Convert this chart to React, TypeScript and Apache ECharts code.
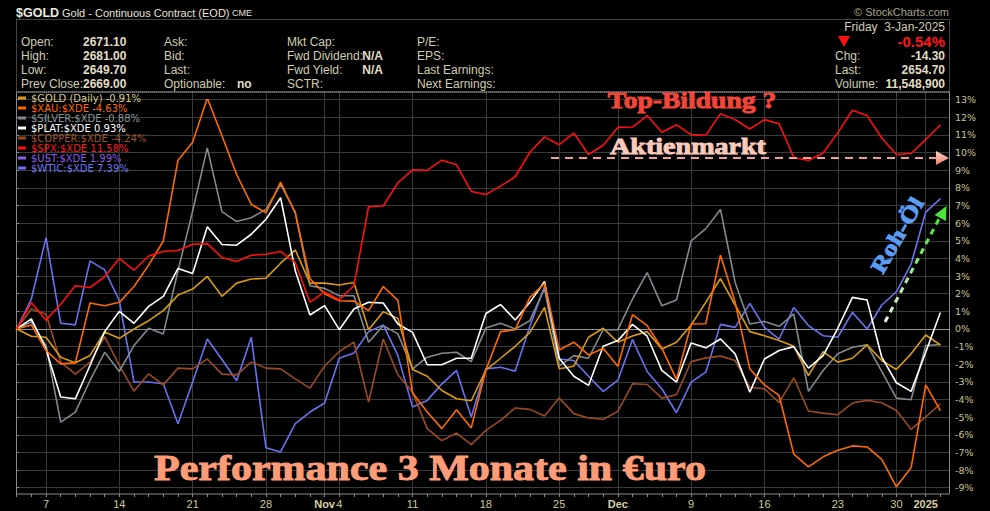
import React, { useEffect, useRef } from 'react';
import * as echarts from 'echarts';

// ---------- DATA ----------
const dates = [
  '2024-10-03','2024-10-04','2024-10-07','2024-10-08','2024-10-09','2024-10-10','2024-10-11','2024-10-14','2024-10-15','2024-10-16','2024-10-17','2024-10-18','2024-10-21','2024-10-22','2024-10-23','2024-10-24','2024-10-25','2024-10-28','2024-10-29','2024-10-30','2024-10-31',
  '2024-11-01','2024-11-04','2024-11-05','2024-11-06','2024-11-07','2024-11-08','2024-11-11','2024-11-12','2024-11-13','2024-11-14','2024-11-15','2024-11-18','2024-11-19','2024-11-20','2024-11-21','2024-11-22','2024-11-25','2024-11-26','2024-11-27','2024-11-29',
  '2024-12-02','2024-12-03','2024-12-04','2024-12-05','2024-12-06','2024-12-09','2024-12-10','2024-12-11','2024-12-12','2024-12-13','2024-12-16','2024-12-17','2024-12-18','2024-12-19','2024-12-20','2024-12-23','2024-12-24','2024-12-26','2024-12-27','2024-12-30','2024-12-31',
  '2025-01-02','2025-01-03'
];

const tickDates = ['2024-10-07','2024-10-14','2024-10-21','2024-10-28','2024-11-01','2024-11-04','2024-11-11','2024-11-18','2024-11-25','2024-12-02','2024-12-09','2024-12-16','2024-12-23','2024-12-30','2025-01-02'];
const tickLabels = ['7','14','21','28','Nov','4','11','18','25','Dec','9','16','23','30','2025'];
const boldTickLabels = ['Nov','Dec','2025'];

const gold = [0,-0.41,-0.47,-1.6,-1.92,-1.5,-0.17,-0.53,0,0.47,1.04,
  1.92,2.26,2.98,1.85,2.6,2.83,2.88,3.73,4.48,2.6,2.6,
  2.49,2.64,-0.04,0.98,0.6,-2.3,-2.68,-3.49,-3.96,-4.07,-2.33,
  -1.66,-0.98,-0.19,1.22,-2.26,-2.11,-0.47,0.04,-0.75,-0.4,
  -0.15,-1.13,-0.75,0.23,1.51,2.86,1.36,-0.15,-0.38,-0.66,-0.98,
  -2.64,-1.28,-1.88,-1.66,-0.9,-1.79,-2.3,-1.41,-0.34,-0.91];

const xau = [0,0.23,-1.22,-1.98,-1.92,1.47,1.32,1.51,2.41,3.62,4.99,
  9.57,10.59,13.09,10.96,8.76,7.06,6.59,8.33,6.56,2.86,2.0,
  1.6,1.58,1.04,2.41,1.62,-3.62,-4.71,-5.65,-4.58,-5.61,-2.33,
  -0.15,-0.04,1.79,2.58,-1.19,-0.75,-1.47,-1.09,-2.11,0.81,
  0.19,-1.09,-2.86,0.28,0.3,4.18,1.51,-2.26,-3.17,-3.77,-7.1,
  -7.82,-7.25,-6.88,-6.63,-6.69,-7.4,-8.95,-7.87,-3.17,-4.63];

const silver = [0,0.41,-0.94,-5.28,-4.71,-2.92,-1.32,-2.41,-0.94,0.04,-0.28,
  3.3,6.69,10.27,6.65,6.09,6.31,6.78,8.2,6.63,2.45,2.3,
  1.88,1.88,-0.75,0.19,-0.28,-2.26,-1.6,-1.38,-1.32,-1.85,0.05,
  0.32,0,0.47,2.3,-2.11,-1.51,-1.66,-0.04,-0.04,1.7,
  3.2,1.32,1.64,4.99,5.69,6.78,2.64,0.28,0.43,0.15,0.85,
  -3.54,-2.35,-1.41,-1.04,-0.9,-2.41,-3.92,-4.01,-0.94,-0.88];

const plat = [0,0.57,-1.13,-3.86,-3.96,-2.07,-0.15,1.0,0.32,1.28,1.85,
  3.43,3.15,5.8,4.79,4.75,5.37,6.22,7.44,3.3,0.79,1.32,
  -0.04,1.13,1.51,1.47,0.28,-0.19,-2.03,-2.03,-1.66,-1.66,0.88,
  1.39,0.51,1.51,2.69,-1.66,-2.68,-3.2,-0.98,-0.66,0.26,
  -0.41,-2.35,-3.01,-0.79,-1.07,-0.57,-1.41,-3.58,-1.7,-1.22,-1.0,
  -2.22,-1.51,0.04,1.79,1.64,-1.6,-3.05,-3.54,-1.32,0.93];

const copper = [0,1.13,0.85,-1.88,-2.56,-1.88,-0.43,-2.07,-3.52,-2.54,-3.17,
  -2.22,-2.26,-1.7,-2.56,-2.6,-1.88,-2.22,-2.26,-2.83,-3.35,-2.1,
  -1.28,-0.75,-4.14,-0.57,-2.6,-3.58,-5.65,-6.33,-5.9,-6.56,-5.75,
  -5.18,-4.48,-4.56,-4.94,-3.92,-4.8,-5.05,-5.12,-4.67,-3.11,
  -3.15,-3.92,-3.73,-1.85,-1.64,-1.54,-1.79,-3.3,-3.39,-4.18,-2.77,
  -4.65,-4.77,-4.86,-4.2,-4.05,-4.18,-4.62,-5.69,-4.99,-4.24];

const spx = [0,1.5,0.5,1.4,2.45,2.35,2.96,4.0,3.33,4.14,4.39,
  4.45,4.8,4.84,4.05,3.82,4.18,4.24,4.39,3.77,1.51,2.1,
  1.66,2.45,6.93,6.97,8.29,9.02,8.99,9.57,9.31,7.8,7.62,
  8.1,8.63,10.02,10.89,10.45,11.11,9.89,10.42,11.43,11.45,
  12.1,11.15,11.57,11.02,10.98,12.2,11.87,11.34,11.87,11.64,9.72,
  9.55,9.98,11.12,12.4,12.1,10.83,9.89,9.95,10.74,11.58];

// $UST line is not visible in the picture (legend entry only)
const ust: number[] = [];

const wtic = [0,1.7,5.18,0.32,0.23,3.86,3.35,1.6,-3.01,-3.01,-3.11,
  -5.37,-3.01,-0.57,-1.73,-2.94,-0.47,-6.73,-6.97,-5.37,-4.71,-4.2,
  -1.66,-1.36,-0.15,0.23,-1.51,-4.43,-4.05,-3.11,-2.35,-4.99,-2.26,
  -2.17,-2.39,0.15,2.41,-1.7,-1.79,-2.68,-3.54,-2.92,-0.6,
  -2.41,-3.39,-4.75,-3.01,-2.45,0.26,0.09,1.45,0.09,-0.57,1.22,
  0.19,-0.38,-0.47,0.94,0,1.36,2.11,3.67,6.63,7.39];

const seriesNames = ['$GOLD (Daily) -0.91%','$XAU:$XDE -4.63%','$SILVER:$XDE -0.88%','$PLAT:$XDE 0.93%','$COPPER:$XDE -4.24%','$SPX:$XDE 11.58%','$UST:$XDE 1.99%','$WTIC:$XDE 7.39%'];
const seriesData = [gold, xau, silver, plat, copper, spx, ust, wtic];
const lineColors = ['#d89a12','#ff6a00','#7f8b90','#ffffff','#9a4a22','#ff1010','#8a5ce8','#6a72f0'];
const legendTextColors = ['#d8c890','#ff6a00','#8a969a','#ffffff','#a0522d','#ff1a1a','#8a5ce8','#6a78f0'];
const drawOrder = [7, 6, 4, 2, 0, 3, 1, 5];

const yMin = -9;
const yMax = 13;

// ---------- LAYOUT ----------
const W = 990, H = 511;
const DATA_L = 16.7, DATA_R = 940.4;
const Y_TOP = 99.7, Y_BOT = 487.7;
const FR_L = 16, FR_R = 950, FR_T = 92, FR_B = 494;

const HDR = '#d2cdb1';
const HDRB = '#e2dec6';
const SANS = 'Liberation Sans';

function txt(x: number, y: number, text: string, color: string, size: number, weight = 'normal', align = 'left', family = SANS) {
  return {
    type: 'text', x, y, silent: true, z: 50,
    style: { text, fill: color, fontSize: size, fontWeight: weight, fontFamily: family, align, verticalAlign: 'middle' }
  };
}

function vgrad(c0: string, c1: string) {
  return new echarts.graphic.LinearGradient(0, 0, 0, 1, [
    { offset: 0, color: c0 },
    { offset: 1, color: c1 }
  ]);
}

function fancy(x: number, y: number, text: string, size: number, color: string, scaleX = 1.2, rotation = 0) {
  return {
    type: 'text', x, y, scaleX, rotation, silent: true, z: 60,
    style: {
      text, fill: color, fontSize: size, fontWeight: 'bold', fontFamily: 'Liberation Serif',
      align: 'center', verticalAlign: 'middle', stroke: color, lineWidth: 0.9
    }
  };
}

function buildOption() {
  const series = drawOrder.map((k) => ({
    name: seriesNames[k],
    type: 'line',
    xAxisIndex: 0,
    yAxisIndex: 0,
    data: seriesData[k],
    symbol: 'none',
    showSymbol: false,
    smooth: false,
    lineStyle: { color: lineColors[k], width: 1.6 },
    itemStyle: { color: lineColors[k] },
    emphasis: { disabled: true },
    silent: true
  }));

  const isTick = (_i: number, v: string) => tickDates.indexOf(v) >= 0;

  const graphic: any[] = [
    // frames
    { type: 'rect', silent: true, z: 1, shape: { x: FR_L + 0.5, y: 19.5, width: FR_R - FR_L - 1, height: FR_T - 19.5 }, style: { fill: 'none', stroke: '#8a8a8a', lineWidth: 1, lineDash: [1, 1] } },
    { type: 'rect', silent: true, z: 1, shape: { x: FR_L + 0.5, y: FR_T, width: FR_R - FR_L - 1, height: FR_B - FR_T }, style: { fill: 'none', stroke: '#8a8a8a', lineWidth: 1 } },

    // title
    txt(16, 12.5, '$GOLD', '#ecebe2', 12.5, 'bold'),
    txt(62, 12.5, 'Gold - Continuous Contract (EOD)', '#e6e4da', 11),
    txt(232, 13, 'CME', '#e6e4da', 9),
    txt(949, 12, '\u00A9 StockCharts.com', '#a8a388', 11, 'normal', 'right'),

    // info block
    txt(21, 42, 'Open:', HDR, 12), txt(83, 42, '2671.10', HDRB, 12, 'bold'),
    txt(21, 56, 'High:', HDR, 12), txt(83, 56, '2681.00', HDRB, 12, 'bold'),
    txt(21, 70, 'Low:', HDR, 12), txt(83, 70, '2649.70', HDRB, 12, 'bold'),
    txt(21, 84, 'Prev Close:', HDR, 12), txt(83, 84, '2669.00', HDRB, 12, 'bold'),
    txt(164, 42, 'Ask:', HDR, 12),
    txt(164, 56, 'Bid:', HDR, 12),
    txt(164, 70, 'Last:', HDR, 12),
    txt(164, 84, 'Optionable:', HDR, 12), txt(237, 84, 'no', HDRB, 12, 'bold'),
    txt(287, 42, 'Mkt Cap:', HDR, 12),
    txt(287, 56, 'Fwd Dividend:', HDR, 12), txt(383, 56, 'N/A', HDRB, 12, 'bold', 'right'),
    txt(287, 70, 'Fwd Yield:', HDR, 12), txt(383, 70, 'N/A', HDRB, 12, 'bold', 'right'),
    txt(287, 84, 'SCTR:', HDR, 12),
    txt(417, 42, 'P/E:', HDR, 12),
    txt(417, 56, 'EPS:', HDR, 12),
    txt(417, 70, 'Last Earnings:', HDR, 12),
    txt(417, 84, 'Next Earnings:', HDR, 12),

    txt(945, 27, 'Friday  3-Jan-2025', HDR, 12, 'normal', 'right'),
    { type: 'polygon', silent: true, z: 50, shape: { points: [[838, 36], [850, 36], [844, 47]] }, style: { fill: '#ff1010' } },
    txt(945, 41.5, '-0.54%', '#ff1a1a', 15, 'bold', 'right'),
    txt(835, 56, 'Chg:', HDR, 12), txt(945, 56, '-14.30', HDRB, 12, 'bold', 'right'),
    txt(835, 70, 'Last:', HDR, 12), txt(945, 70, '2654.70', HDRB, 12, 'bold', 'right'),
    txt(835, 84, 'Volume:', HDR, 12), txt(945, 84, '11,548,900', HDRB, 12, 'bold', 'right'),

    // annotations
    fancy(692, 99.5, 'Top-Bildung ?', 23, '#f2463a', 1.2),
    fancy(688, 146, 'Aktienmarkt', 23, '#fbcabb', 1.22),
    { type: 'line', silent: true, z: 55, shape: { x1: 551, y1: 158, x2: 936, y2: 158 }, style: { stroke: '#f2a092', lineWidth: 2, lineDash: [8, 6] } },
    { type: 'polygon', silent: true, z: 55, shape: { points: [[936, 151], [949, 158], [936, 165]] }, style: { fill: vgrad('#ffd2c8', '#ef7e6c') } },

    fancy(430, 468, 'Performance 3 Monate in \u20ACuro', 35, '#ff9c78', 1.2),

    fancy(897, 235, 'Roh-\u00D6l', 22, '#5a9cf2', 1.2, 60 * Math.PI / 180),
    {
      type: 'line', silent: true, z: 55,
      shape: { x1: 885, y1: 322, x2: 940, y2: 217 },
      style: {
        stroke: new echarts.graphic.LinearGradient(0, 1, 1, 0, [
          { offset: 0, color: '#e6f2de' },
          { offset: 1, color: '#46e034' }
        ]),
        lineWidth: 3, lineDash: [6, 5]
      }
    },
    { type: 'polygon', silent: true, z: 55, shape: { points: [[946.5, 206], [946, 221], [934.6, 215]] }, style: { fill: '#4ee23a' } }
  ];

  return {
    animation: false,
    backgroundColor: '#000000',
    tooltip: { show: false },
    legend: {
      orient: 'vertical', left: 18, top: 93, padding: 0,
      itemWidth: 8, itemHeight: 3, itemGap: 0, icon: 'rect',
      selectedMode: false,
      textStyle: { fontFamily: 'DejaVu Sans', fontSize: 10, lineHeight: 10 },
      data: seriesNames.map((n, i) => ({ name: n, textStyle: { color: legendTextColors[i] } }))
    },
    grid: [
      { left: DATA_L, right: W - DATA_R, top: Y_TOP, bottom: H - Y_BOT },
      { left: DATA_L, right: W - DATA_R, top: FR_T, bottom: H - FR_B },
      { left: FR_L, right: W - FR_R, top: Y_TOP, bottom: H - Y_BOT }
    ],
    xAxis: [
      { gridIndex: 0, type: 'category', data: dates, boundaryGap: false, show: false },
      {
        gridIndex: 1, type: 'category', data: dates, boundaryGap: false,
        axisLine: { show: false },
        axisTick: { show: true, interval: 0, length: 3, lineStyle: { color: '#8a8a8a' } },
        axisLabel: {
          interval: isTick, margin: 4, color: '#cfc79f', fontSize: 11, fontFamily: SANS,
          formatter: (v: string) => {
            const k = tickDates.indexOf(v);
            if (k < 0) return '';
            const lab = tickLabels[k];
            return boldTickLabels.indexOf(lab) >= 0 ? '{b|' + lab + '}' : lab;
          },
          rich: { b: { fontWeight: 'bold', color: '#d8d0a8', fontSize: 11, fontFamily: SANS } }
        },
        splitLine: { show: true, interval: isTick, lineStyle: { color: '#3a3a3a', width: 1 } }
      },
      {
        gridIndex: 2, type: 'value', min: 0, max: 1, z: 1,
        axisLine: { show: true, onZero: true, lineStyle: { color: '#a8a8a8', type: 'dotted', width: 1 } },
        axisTick: { show: false }, axisLabel: { show: false }, splitLine: { show: false }
      }
    ],
    yAxis: [
      { gridIndex: 0, type: 'value', min: yMin, max: yMax, show: false },
      { gridIndex: 1, type: 'value', min: 0, max: 1, show: false },
      {
        gridIndex: 2, type: 'value', position: 'right', min: yMin, max: yMax, interval: 1,
        axisLine: { show: false },
        axisTick: { show: true, length: 3, lineStyle: { color: '#8a8a8a' } },
        axisLabel: { formatter: '{value}%', color: '#cbc393', fontSize: 9.5, fontFamily: 'DejaVu Sans', margin: 5 },
        splitLine: { show: true, lineStyle: { color: '#3a3a3a', width: 1 } }
      }
    ],
    series,
    graphic
  };
}

export default function App() {
  const ref = useRef<HTMLDivElement>(null);
  useEffect(() => {
    document.body.style.margin = '0';
    document.body.style.background = '#000';
    const chart = echarts.init(ref.current as HTMLDivElement, undefined, { renderer: 'svg', width: W, height: H });
    chart.setOption(buildOption() as any);
    return () => chart.dispose();
  }, []);
  return <div ref={ref} style={{ width: W, height: H, background: '#000', position: 'absolute', left: 0, top: 0 }} />;
}
